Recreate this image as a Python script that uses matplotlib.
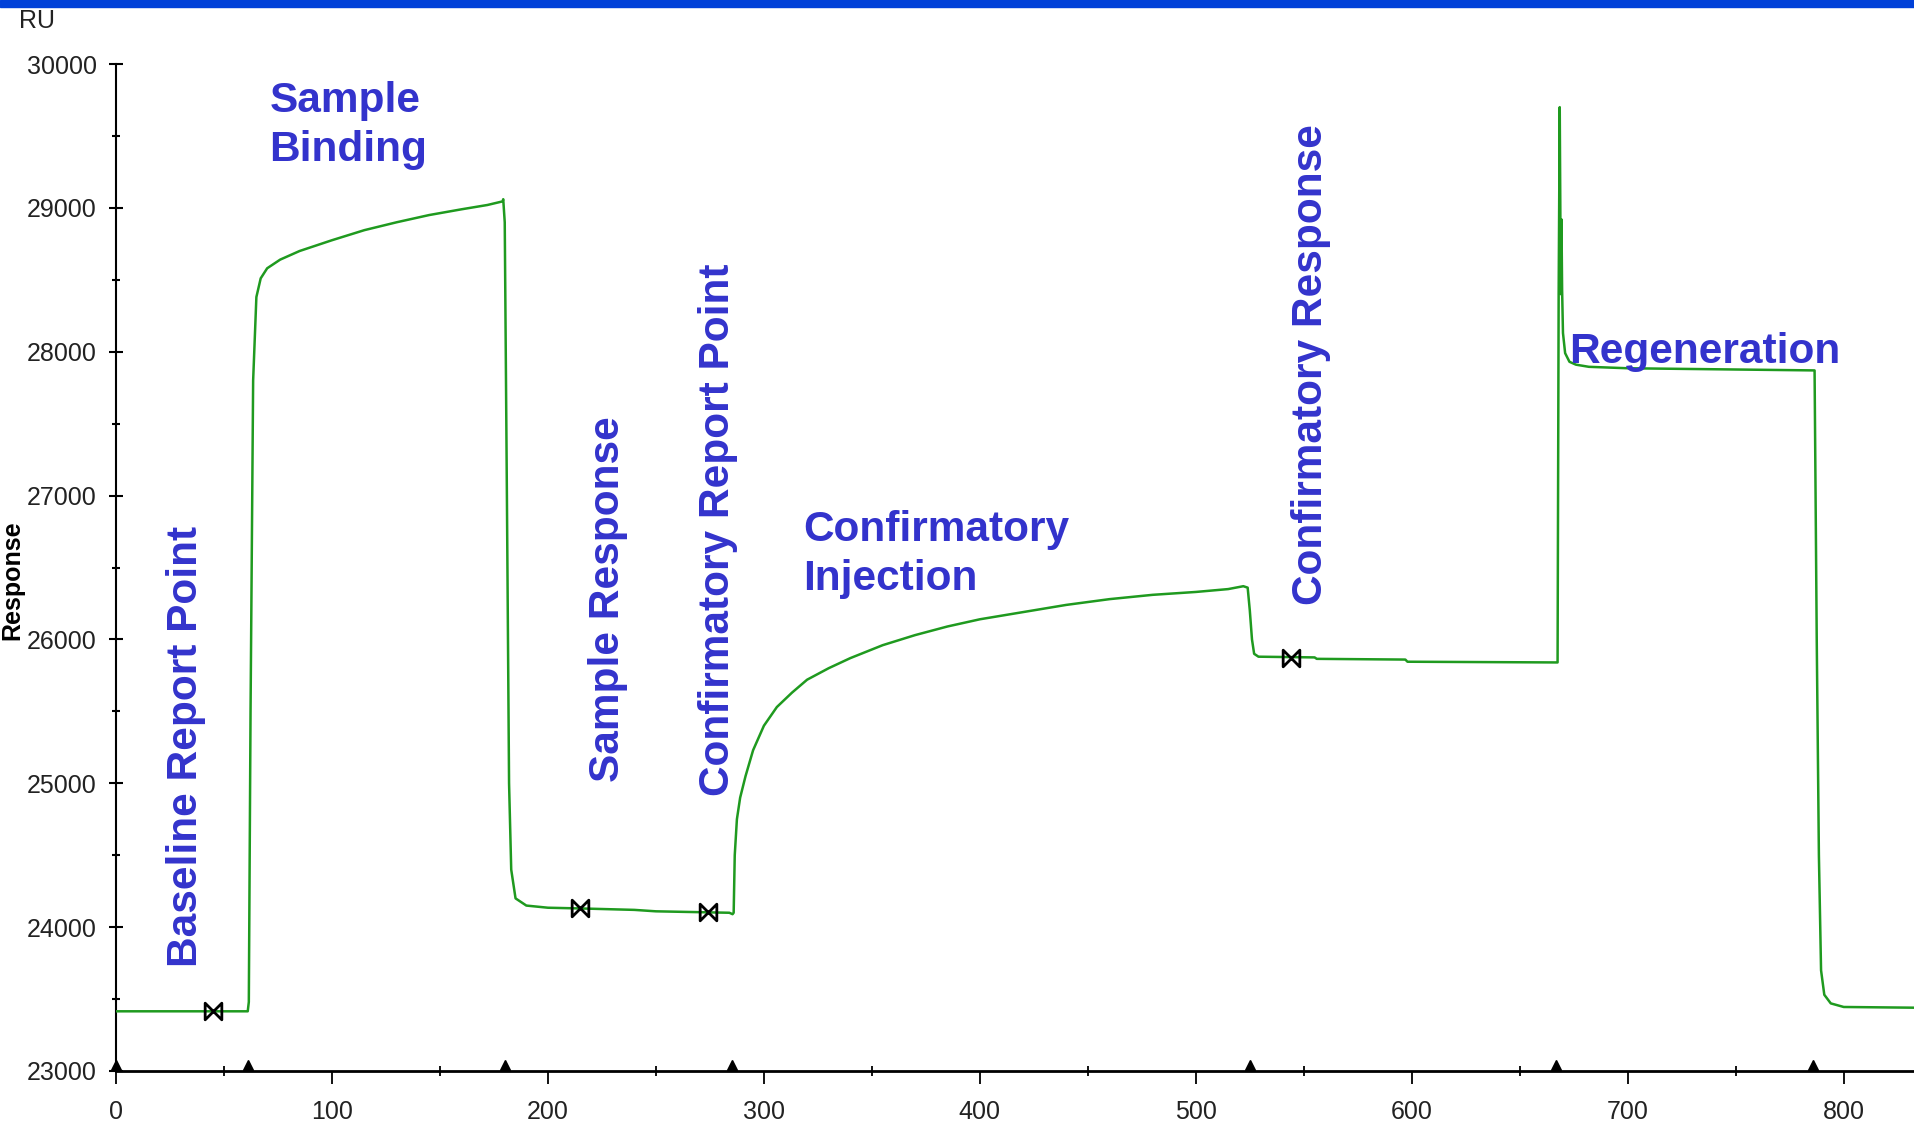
import matplotlib
matplotlib.use("Agg")
import matplotlib.pyplot as plt
from matplotlib.path import Path
from matplotlib.patches import Rectangle

# sensorgram trace (time s, response RU)
time = [0, 61, 61.5, 62.3, 63.5, 65, 67, 70, 76, 85, 100, 115, 130, 145, 160, 172, 179, 179.3,
        180, 181, 182, 183, 185, 190, 200, 215, 240, 250, 284, 285.5,
        286, 286.5, 287.5, 289, 291.5, 295, 300, 306, 313, 320, 330, 340, 355, 370, 385, 400,
        420, 440, 460, 480, 500, 515, 522, 524,
        525, 526, 527, 529, 555, 556, 597, 598, 667.5,
        668, 668.5, 669, 669.3, 669.6, 670, 671, 673, 676, 682, 700, 786.5,
        787.5, 788.5, 789.5, 791, 794, 800, 833]
response = [23415, 23415, 23480, 25500, 27800, 28380, 28510, 28580, 28640, 28700, 28775, 28845, 28900, 28950, 28990, 29020, 29045, 29060,
            28900, 27000, 25000, 24400, 24200, 24150, 24135, 24130, 24120, 24110, 24100, 24090,
            24100, 24500, 24750, 24900, 25050, 25230, 25400, 25530, 25630, 25720, 25800, 25870, 25960, 26030, 26090, 26140,
            26190, 26240, 26280, 26310, 26330, 26350, 26370, 26360,
            26200, 26000, 25900, 25880, 25875, 25865, 25860, 25845, 25840,
            28400, 29700, 28400, 28920, 28430, 28130, 27990, 27930, 27910, 27895, 27885, 27870,
            26000, 24500, 23700, 23530, 23470, 23445, 23440]

# report points (bowtie markers)
report_t = [45, 215, 274, 544]
report_r = [23420, 24133, 24105, 25872]

# injection markers on the time axis
inject_t = [0, 61, 180, 285, 525, 667, 786]

# annotations
labels_flat = [("Sample\nBinding", 71, 29882, "top"),
               ("Confirmatory\nInjection", 318, 26900, "top"),
               ("Regeneration", 673, 27922, "baseline")]
labels_vert = [("Baseline Report Point", 37.3, 23721),
               ("Sample Response", 232.9, 25011),
               ("Confirmatory Report Point", 283.8, 24909),
               ("Confirmatory Response", 558.6, 26241)]

tick_font = ["Liberation Sans Narrow", "Liberation Sans", "DejaVu Sans"]
label_font = ["Liberation Sans", "DejaVu Sans"]
blue = "#3333cc"

fig = plt.figure(figsize=(19.15, 11.22), dpi=100)
fig.patches.append(Rectangle((0, 1 - 7 / 1122), 1, 7 / 1122, transform=fig.transFigure,
                             color="#0040d8", zorder=10))
ax = fig.add_axes([116 / 1915, 51 / 1122, 1 - 116 / 1915, 1007 / 1122])

ax.plot(time, response, color="#1f9a1f", lw=1.8, zorder=3)

bowtie = Path([(-1, -1), (-1, 1), (0, 0), (-1, -1), (1, 1), (1, -1), (0, 0), (1, 1)],
              [Path.MOVETO, Path.LINETO, Path.LINETO, Path.CLOSEPOLY,
               Path.MOVETO, Path.LINETO, Path.LINETO, Path.CLOSEPOLY])
ax.plot(report_t, report_r, ls="none", marker=bowtie, ms=12, mfc="none", mec="black", mew=2, zorder=4)
ax.plot(inject_t, [23045] * len(inject_t), ls="none", marker="^", ms=7, color="black", clip_on=False, zorder=5)

for txt, x, y, va in labels_flat:
    ax.text(x, y, txt, color=blue, fontsize=30.5, fontweight="bold", family=label_font,
            ha="left", va=va, linespacing=1.3)
for txt, x, y in labels_vert:
    ax.text(x, y, txt, color=blue, fontsize=30.5, fontweight="bold", family=label_font,
            rotation=90, rotation_mode="anchor", ha="left", va="baseline")

ax.set_xlim(0, 833)
ax.set_ylim(23000, 30000)
ax.set_xticks(range(0, 801, 100))
ax.set_xticks(range(50, 801, 100), minor=True)
ax.set_yticks(range(23000, 30001, 1000))
ax.set_yticks(range(23500, 30000, 1000), minor=True)

for s in ["top", "right"]:
    ax.spines[s].set_visible(False)
ax.spines["left"].set_linewidth(1.5)
ax.spines["bottom"].set_linewidth(2)

ax.tick_params(axis="x", which="major", direction="out", length=9, width=1.3, pad=12)
ax.tick_params(axis="x", which="minor", direction="inout", length=7, width=1.3)
ax.tick_params(axis="y", which="major", direction="inout", length=10, width=1.5, pad=9)
ax.tick_params(axis="y", which="minor", direction="inout", length=6, width=1.5)
for lab in ax.get_xticklabels() + ax.get_yticklabels():
    lab.set_family(tick_font)
    lab.set_fontsize(18)
    lab.set_color("#222222")

fig.text(37 / 1915, 1 - 21 / 1122, "RU", family=tick_font, fontsize=18, ha="center", va="center", color="#222222")
fig.text(12 / 1915, 1 - 580 / 1122, "Response", family=label_font, fontsize=18, fontweight="bold",
         rotation=90, ha="center", va="center")

fig.savefig("out.png", dpi=100)
